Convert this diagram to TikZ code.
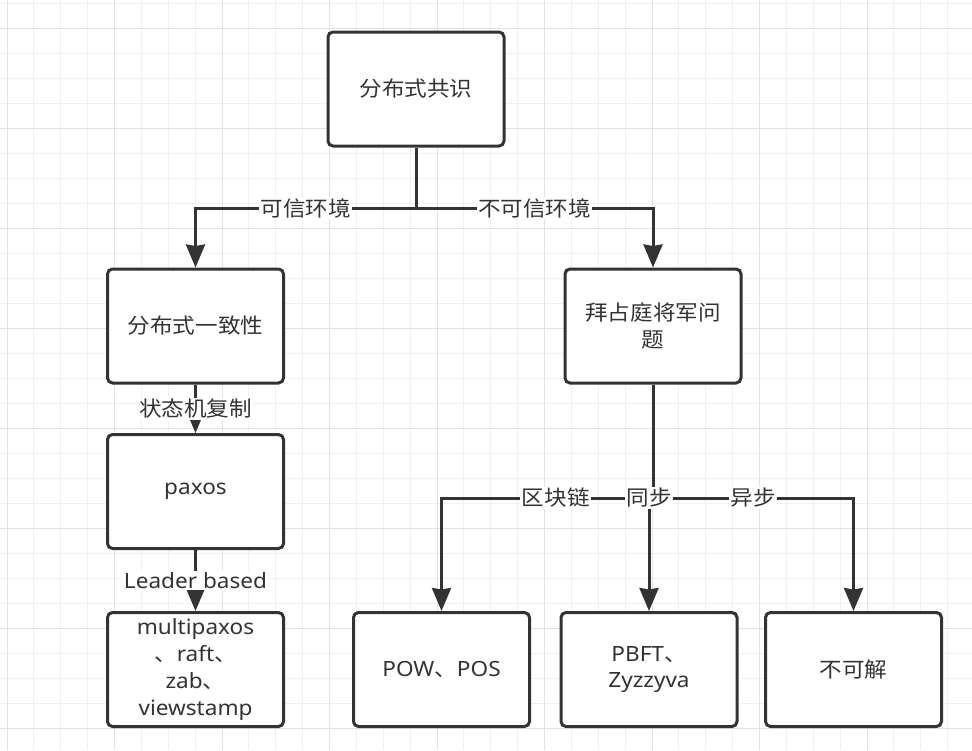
\documentclass[tikz,border=0pt]{standalone}
\usepackage{fontspec}
\setmainfont{Noto Sans}[FakeStretch=1.075]
\newfontfamily\cjk{Noto Sans CJK SC}[FakeStretch=1.075]
\usetikzlibrary{arrows.meta}

\newcommand\boxfont{\fontsize{21}{26.7}\selectfont}

\begin{document}
\begin{tikzpicture}[x=1pt, y=-1pt,
    box/.style={draw=linecolor, line width=3pt, rounded corners=5pt, fill=white,
        minimum width=176pt, minimum height=114pt, align=center, text=textcolor, font=\boxfont},
    cjk/.style={font=\cjk\boxfont},
    elabel/.style={fill=white, inner sep=1.5pt, text=textcolor, font=\cjk\boxfont},
    link/.style={draw=linecolor, line width=3pt},
    flow/.style={link, -{Stealth[length=23pt, width=19pt, inset=1.5pt]}},
    gridminor/.style={draw=gridlight, line width=1pt},
    gridmajor/.style={draw=griddark, line width=1pt}]

    % Define colors
    \definecolor{linecolor}{RGB}{51, 51, 51}
    \definecolor{textcolor}{RGB}{51, 51, 51}
    \definecolor{gridlight}{RGB}{240, 240, 240}
    \definecolor{griddark}{RGB}{226, 226, 226}

    \useasboundingbox (0, 0) rectangle (972, 750);
    \fill[white] (0, 0) rectangle (972, 750);

    % Background grid
    \foreach \i in {0,...,36} {
        \draw[gridminor] ({7+26.875*\i}, 0) -- ({7+26.875*\i}, 750);
    }
    \foreach \i in {0,...,29} {
        \draw[gridminor] (0, {3+25*\i}) -- (972, {3+25*\i});
    }
    \foreach \i in {0,...,9} {
        \draw[gridmajor] ({7+107.5*\i}, 0) -- ({7+107.5*\i}, 750);
    }
    \foreach \i in {0,...,7} {
        \draw[gridmajor] (0, {28+100*\i}) -- (972, {28+100*\i});
    }

    % Boxes
    \node[box, cjk] (consensus) at (416, 89) {分布式共识};
    \node[box, cjk] (consistency) at (195.5, 326) {分布式一致性};
    \node[box, cjk] (byzantine) at (653, 326) {拜占庭将军问\\题};
    \node[box] (paxos) at (195.5, 491.5) {paxos};
    \node[box] (multi) at (195.5, 669.5) {multipaxos\\{\cjk 、}raft{\cjk 、}\\zab{\cjk 、}\\viewstamp};
    \node[box] (pow) at (441.5, 669.5) {POW{\cjk 、}POS};
    \node[box] (pbft) at (649, 669.5) {PBFT{\cjk 、}\\Zyzzyva};
    \node[box, cjk] (unsolvable) at (853.5, 669.5) {不可解};

    % Trusted / untrusted split
    \coordinate (split) at (416, 208);
    \draw[link] (consensus.south) -- (split);
    \draw[flow] (split) -| node[elabel, pos=0.25] {可信环境} (consistency.north);
    \draw[flow] (split) -| node[elabel, pos=0.25] {不可信环境} (byzantine.north);

    % Left chain
    \draw[flow] (consistency) -- node[elabel] {状态机复制} (paxos);
    \draw[flow] (paxos) -- node[elabel, font=\boxfont] {Leader based} (multi);

    % Byzantine fork
    \coordinate (fork) at (653, 498);
    \draw[link] (byzantine.south) -- (fork);
    \draw[flow] (fork) -| node[elabel, pos=0.23] {区块链} (pow.north);
    \draw[flow] (fork) -| node[elabel, pos=0.25] {异步} (unsolvable.north);
    \draw[flow] (fork) -| node[elabel] {同步} (pbft.north);

\end{tikzpicture}
\end{document}
